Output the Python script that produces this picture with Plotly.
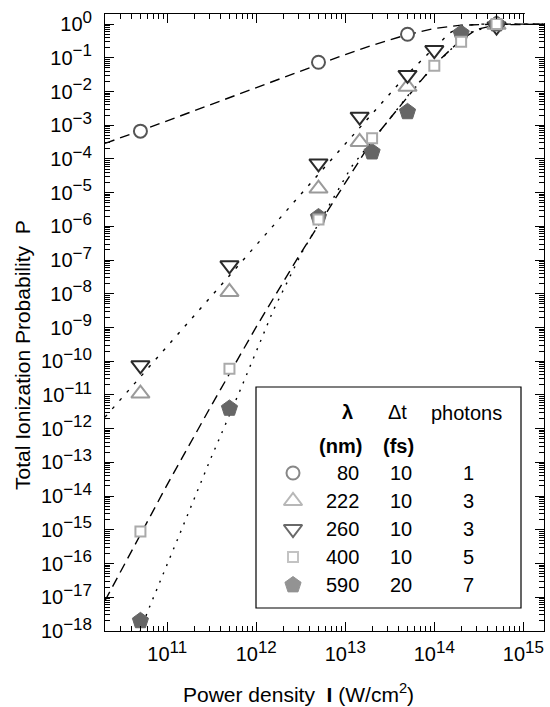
import plotly.graph_objects as go

# ---------------- data ----------------
I_80 = [5e10, 5e12, 5e13]
P_80 = [6.7e-4, 0.074, 0.5]
I_222 = [5e10, 5e11, 5e12, 1.45e13, 5e13, 5e14]
P_222 = [1.1e-11, 1.14e-8, 1.33e-5, 3.2e-4, 1.38e-2, 0.95]
I_260 = [5e10, 5e11, 5e12, 1.45e13, 5e13, 1e14, 5e14]
P_260 = [7.6e-11, 7e-8, 7.4e-5, 1.8e-3, 0.031, 0.17, 0.85]
I_400 = [5e10, 5e11, 5e12, 2e13, 1e14, 2e14, 5e14]
P_400 = [9e-16, 6e-11, 1.6e-6, 4.1e-4, 0.058, 0.30, 1.0]
I_590 = [5e10, 5e11, 5e12, 2e13, 5e13, 2e14, 5e14]
P_590 = [2e-18, 4e-12, 1.9e-6, 1.6e-4, 2.5e-3, 0.53, 1.0]

# fitted curves
fitA_I = [2e10, 5e10, 1e11, 3e11, 1e12, 3e12, 1e13, 2e13, 5e13, 1e14, 2e14, 5e14, 1.7e15]
fitA_P = [2.9e-4, 6.8e-4, 1.35e-3, 4.0e-3, 1.3e-2, 3.9e-2, 0.125, 0.235, 0.49, 0.74, 0.93, 1.0, 1.0]
fitB_I = [2e10, 5e10, 1e11, 3e11, 1e12, 3e12, 1e13, 2e13, 5e13, 1e14, 1.5e14, 2e14, 3e14, 5e14, 1.7e15]
fitB_P = [2.2e-12, 3.5e-11, 2.8e-10, 7.6e-9, 2.8e-7, 7.6e-6, 2.8e-4, 2.2e-3, 3.3e-2, 0.2, 0.55, 0.87, 0.995, 1.0, 1.0]
fitC_I = [2e10, 5e10, 1e11, 3e11, 1e12, 3e12, 5e12, 1e13, 2e13, 5e13, 1e14, 2e14, 3e14, 5e14, 1e15, 1.7e15]
fitC_P = [7.9e-18, 7e-16, 2.2e-14, 4e-12, 1.05e-9, 1.3e-7, 1.1e-6, 2.1e-5, 3.5e-4, 6.9e-3, 0.063, 0.34, 0.7, 0.95, 1.0, 1.0]
fitD_I = [4.5e10, 6.1e10, 1.39e11, 3.02e11, 6.84e11, 1.55e12, 3.22e12, 6.7e12, 1.175e13, 3.3e13, 6.03e13, 1.43e14, 2.5e14, 5e14, 1.7e15]
fitD_P = [5e-19, 4.1e-18, 7.8e-16, 1.15e-13, 1.74e-11, 3.2e-9, 1.6e-7, 4.8e-6, 5.9e-5, 1.8e-3, 1.38e-2, 0.15, 0.56, 0.98, 1.0]

x_decades = [11, 12, 13, 14, 15]
y_decades = list(range(0, -19, -1))

leg_lambda = ["80", "222", "260", "400", "590"]
leg_dt = ["10", "10", "10", "10", "20"]
leg_photons = ["1", "3", "3", "5", "7"]

# ---------------- layout constants ----------------
W, H = 550, 707
ML, MR, MT, MB = 105, 6, 14, 76
PW, PH = W - ML - MR, H - MT - MB
XR = [10.301, 15.232]
YR = [-18, 0.3]
FONT = "Liberation Sans, Arial, Helvetica, sans-serif"


def px(x):
    return (x - ML) / PW


def py(y):
    return (H - MB - y) / PH


def lx(v):  # log10 value -> paper x
    return (v - XR[0]) / (XR[1] - XR[0])


def ly(v):
    return (v - YR[0]) / (YR[1] - YR[0])


def pow_label(d):
    s = str(d).replace("-", "\u2212")
    return "10<sup><span style='font-size:17px'>%s</span></sup>" % s


styles = {
    "80": dict(symbol="circle", size=13, color="white", line=dict(color="#555555", width=2)),
    "222": dict(symbol="triangle-up", size=16, color="white", line=dict(color="#9a9a9a", width=2)),
    "260": dict(symbol="triangle-down", size=16, color="white", line=dict(color="#2a2a2a", width=2)),
    "400": dict(symbol="square", size=10, color="white", line=dict(color="#aaaaaa", width=2)),
    "590": dict(symbol="pentagon", size=17, color="#666666", line=dict(color="#666666", width=1)),
}

fig = go.Figure()

lw = 1.4
fig.add_trace(go.Scatter(x=fitA_I, y=fitA_P, mode="lines",
                         line=dict(color="black", width=lw, dash="10px,6px")))
fig.add_trace(go.Scatter(x=fitB_I, y=fitB_P, mode="lines",
                         line=dict(color="black", width=lw, dash="3px,8px")))
fig.add_trace(go.Scatter(x=fitC_I, y=fitC_P, mode="lines",
                         line=dict(color="black", width=lw, dash="10px,6px")))
fig.add_trace(go.Scatter(x=fitD_I, y=fitD_P, mode="lines",
                         line=dict(color="black", width=lw, dash="2px,7px")))

series = [("80", I_80, P_80), ("222", I_222, P_222), ("260", I_260, P_260),
          ("590", I_590, P_590), ("400", I_400, P_400)]
for key, xs, ys in series:
    fig.add_trace(go.Scatter(x=xs, y=ys, mode="markers", marker=styles[key], cliponaxis=False))

# legend symbols on an overlay axis
row_y = [473, 501, 529, 557, 585]
fig.add_trace(go.Scatter(
    x=[px(293)] * 5, y=[py(r) for r in row_y], mode="markers",
    marker=dict(symbol=[styles[k]["symbol"] for k in leg_lambda],
                size=[styles[k]["size"] for k in leg_lambda],
                color=[styles[k]["color"] for k in leg_lambda],
                line=dict(color=[styles[k]["line"]["color"] for k in leg_lambda],
                          width=[styles[k]["line"]["width"] for k in leg_lambda])),
    xaxis="x2", yaxis="y2", cliponaxis=False))

tickfont = dict(family=FONT, size=20, color="black")
axis_common = dict(type="log", showgrid=False, zeroline=False, showline=True, linecolor="black",
                   linewidth=1, mirror="ticks", ticks="inside", ticklen=9, tickwidth=1,
                   tickcolor="black", tickfont=tickfont)

x_minor = [m * 10 ** d for d in range(10, 16) for m in range(2, 10)]
y_minor = [m * 10.0 ** d for d in range(-18, 1) for m in range(2, 10)]

fig.update_layout(
    width=W, height=H, margin=dict(l=ML, r=MR, t=MT, b=MB),
    plot_bgcolor="white", paper_bgcolor="white", showlegend=False,
    font=dict(family=FONT, color="black"),
    xaxis=dict(axis_common, range=XR, tickmode="array",
               tickvals=[10.0 ** d for d in x_decades],
               ticktext=[pow_label(d) for d in x_decades],
               ticklabelstandoff=5,
               minor=dict(ticks="inside", ticklen=5, tickwidth=1, tickcolor="black",
                          tickmode="array", tickvals=x_minor)),
    yaxis=dict(axis_common, range=YR, tickmode="array",
               tickvals=[10.0 ** d for d in y_decades],
               ticktext=[pow_label(d) for d in y_decades],
               ticklabelstandoff=8,
               minor=dict(ticks="inside", ticklen=5, tickwidth=1, tickcolor="black",
                          tickmode="array", tickvals=y_minor)),
    xaxis2=dict(overlaying="x", range=[0, 1], visible=False),
    yaxis2=dict(overlaying="y", range=[0, 1], visible=False),
)

ann = []
ann.append(dict(text="Power density&nbsp; <b>I</b> (W/cm<sup>2</sup>)", x=px(298), y=py(693),
                xref="paper", yref="paper", showarrow=False, font=dict(size=21),
                xanchor="center", yanchor="middle"))
ann.append(dict(text="Total Ionization Probability&nbsp; P", x=px(22), y=py(355),
                xref="paper", yref="paper", showarrow=False, font=dict(size=21),
                textangle=-90, xanchor="center", yanchor="middle"))

lf = dict(size=20)
ann.append(dict(text="<b>λ</b>", x=px(347), y=py(412), xref="paper", yref="paper",
                showarrow=False, font=lf, xanchor="center", yanchor="middle"))
ann.append(dict(text="Δt", x=px(397), y=py(412), xref="paper", yref="paper",
                showarrow=False, font=lf, xanchor="center", yanchor="middle"))
ann.append(dict(text="photons", x=px(466), y=py(413), xref="paper", yref="paper",
                showarrow=False, font=lf, xanchor="center", yanchor="middle"))
ann.append(dict(text="<b>(nm)</b>", x=px(340), y=py(446), xref="paper", yref="paper",
                showarrow=False, font=lf, xanchor="center", yanchor="middle"))
ann.append(dict(text="<b>(fs)</b>", x=px(398), y=py(446), xref="paper", yref="paper",
                showarrow=False, font=lf, xanchor="center", yanchor="middle"))
for r, lam, dt, ph in zip(row_y, leg_lambda, leg_dt, leg_photons):
    ann.append(dict(text=lam, x=px(361), y=py(r), xref="paper", yref="paper",
                    showarrow=False, font=lf, xanchor="right", yanchor="middle"))
    ann.append(dict(text=dt, x=px(401), y=py(r), xref="paper", yref="paper",
                    showarrow=False, font=lf, xanchor="center", yanchor="middle"))
    ann.append(dict(text=ph, x=px(468), y=py(r), xref="paper", yref="paper",
                    showarrow=False, font=lf, xanchor="center", yanchor="middle"))
fig.update_layout(annotations=ann)

shapes = [
    dict(type="rect", xref="paper", yref="paper", x0=px(256), x1=px(521), y0=py(608), y1=py(387),
         line=dict(color="black", width=1.2), fillcolor="rgba(0,0,0,0)", layer="above"),
    # open top-right corner of the frame, as in the original
    dict(type="line", xref="paper", yref="paper", x0=lx(15) + 1.5 / PW, x1=1.02, y0=1, y1=1,
         line=dict(color="white", width=3), layer="above"),
    dict(type="line", xref="paper", yref="paper", x0=1, x1=1, y0=ly(0) + 1.0 / PH, y1=1.02,
         line=dict(color="white", width=3), layer="above"),
]
fig.update_layout(shapes=shapes)

fig.write_html("out.html")
